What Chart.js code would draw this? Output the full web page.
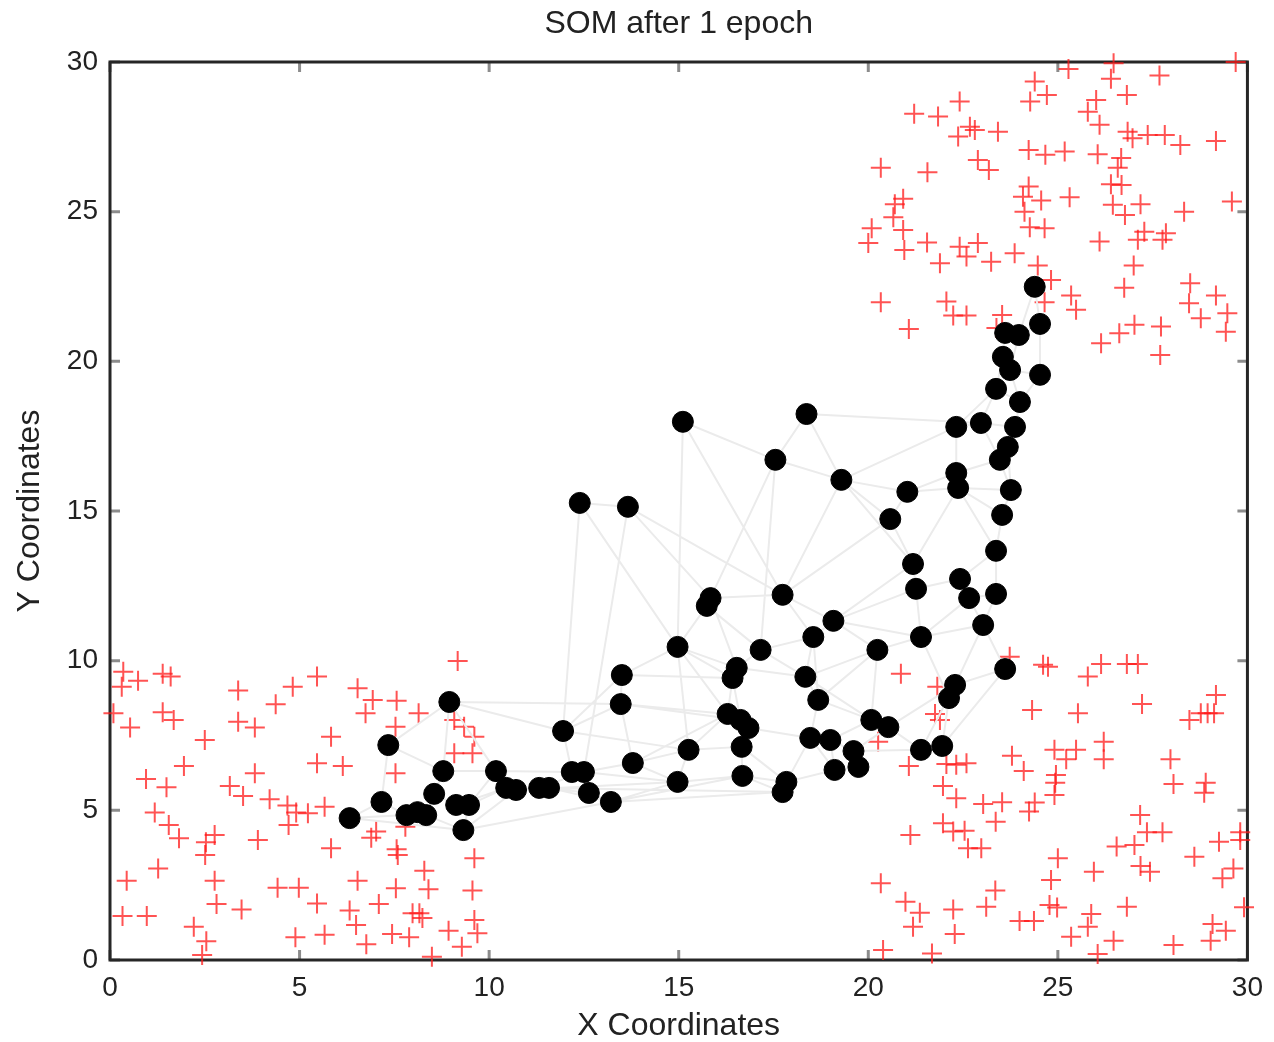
<!DOCTYPE html>
<html>
<head>
<meta charset="utf-8">
<title>SOM after 1 epoch</title>
<script src="https://cdn.jsdelivr.net/npm/chart.js@4.4.0/dist/chart.umd.min.js"></script>
<style>
  html, body { margin: 0; padding: 0; background: #fff; }
  #som { display: block; }
</style>
</head>
<body>
<canvas id="som" width="1274" height="1042"></canvas>
<script>
// Données d'entrée (croix rouges), par groupe
const clusterLowLeft = [
  [0.35,9.63],[0.31,9.13],[0.74,9.33],[1.39,9.56],[1.60,9.47],[3.38,9.00],[4.82,9.13],[0.09,8.24],[0.53,7.77],[1.39,8.28],
  [1.68,8.02],[3.38,7.96],[3.82,7.77],[4.37,8.54],[2.50,7.35],[1.95,6.48],[3.82,6.24],[0.95,6.05],[1.49,5.77],[3.16,5.81],
  [3.51,5.48],[4.21,5.37],[4.68,5.16],[4.91,4.93],[1.18,4.93],[1.55,4.51],[1.82,4.07],[2.76,4.18],[2.53,3.93],[2.51,3.51],
  [3.90,4.01],[4.71,4.51],[1.27,3.06],[0.44,2.65],[2.76,2.65],[4.42,2.41],[4.98,2.41],[2.81,1.87],[3.47,1.69],[0.33,1.47],
  [0.97,1.47],[2.21,1.11],[2.54,0.63],[2.43,0.17],[4.89,0.76],
  [9.17,9.99],[5.46,9.47],[6.53,9.08],[6.93,8.69],[7.56,8.66],[6.74,8.24],[8.14,8.24],[7.53,7.79],[5.83,7.46],[9.08,8.02],
  [9.34,7.79],[9.61,7.46],[9.56,6.91],[9.08,6.91],[5.46,6.57],[6.14,6.48],[7.53,6.24],[5.22,4.90],[5.66,5.12],[7.02,4.29],
  [6.89,4.08],[7.56,3.70],[7.59,3.51],[7.79,4.45],[5.83,3.73],[9.61,3.40],[8.29,2.98],[6.53,2.65],[7.54,2.40],[8.40,2.36],
  [9.56,2.32],[5.46,1.89],[7.09,1.87],[6.32,1.65],[6.49,1.17],[8.16,1.56],[7.98,1.56],[8.24,1.40],[9.61,1.34],[8.93,0.98],
  [9.69,0.89],[5.66,0.84],[6.76,0.53],[7.44,0.87],[7.89,0.76],[9.28,0.44],[8.49,0.11]
];

const clusterTopRight = [
  [24.39,29.35],[24.71,28.90],[24.27,28.68],[22.41,28.68],[21.21,28.27],[21.84,28.18],[22.68,27.84],[22.81,27.73],[22.37,27.51],[23.42,27.67],
  [24.23,27.06],[24.67,26.90],[22.89,26.73],[23.18,26.39],[20.33,26.47],[21.56,26.32],[24.23,25.84],[24.08,25.50],[24.56,25.37],[20.92,25.43],
  [20.70,25.25],[20.66,24.81],[20.09,24.45],[20.92,24.39],[24.12,25.00],[24.26,24.48],[24.65,24.45],[20.00,23.95],[20.95,23.72],[21.55,23.97],
  [22.41,23.83],[22.89,23.95],[22.59,23.50],[21.89,23.28],[23.24,23.33],[23.86,23.61],[24.47,23.20],[24.82,22.72],[20.33,21.97],[22.06,22.00],
  [22.24,21.53],[22.59,21.53],[21.07,21.08],[23.38,21.11],[23.53,21.55],[24.65,21.97],
  [25.28,29.77],[26.47,29.96],[26.40,29.44],[27.68,29.55],[29.69,30.00],[26.82,28.90],[26.01,28.73],[25.79,28.34],[26.10,27.90],[26.84,27.67],
  [26.97,27.45],[27.37,27.56],[27.82,27.56],[28.23,27.23],[29.17,27.36],[25.18,27.01],[26.05,26.92],[26.67,26.79],[26.58,26.47],[26.40,25.92],
  [26.68,25.89],[25.31,25.48],[26.45,25.23],[27.18,25.25],[26.77,24.89],[28.33,25.00],[29.59,25.34],[27.28,24.33],[27.11,24.06],[27.85,24.28],
  [27.76,24.06],[26.10,24.00],[27.00,23.20],[28.49,22.61],[26.75,22.46],[25.35,22.20],[25.48,21.72],[28.46,21.94],[29.17,22.20],[28.77,21.44],
  [29.47,21.61],[29.43,20.99],[27.02,21.22],[26.62,20.94],[27.72,21.16],[26.14,20.60],[27.70,20.21]
];

const clusterLowRight = [
  [23.73,10.13],[24.61,9.86],[24.74,9.80],[20.86,9.56],[21.82,9.13],[24.32,8.35],[21.76,8.22],[21.89,8.02],[24.91,7.02],[23.79,6.82],
  [24.10,6.31],[24.93,5.92],[24.91,5.51],[21.07,6.48],[22.06,6.55],[22.32,6.52],[22.59,6.57],[20.26,7.29],[21.97,5.81],[22.32,5.40],
  [23.03,5.21],[23.53,5.27],[24.39,5.26],[24.24,4.96],[23.36,4.62],[21.97,4.57],[22.24,4.29],[22.54,4.32],[22.63,3.73],[22.98,3.73],
  [21.11,4.18],[25.00,3.40],[20.33,2.56],[20.98,1.95],[21.36,1.58],[21.18,1.11],[22.24,1.69],[22.28,0.87],[23.35,2.32],[23.11,1.78],
  [23.99,1.30],[24.37,1.30],[24.82,2.67],[24.78,1.84],[20.39,0.33],[21.68,0.22],
  [26.14,9.89],[26.82,9.89],[27.11,9.89],[25.79,9.47],[29.17,8.85],[27.22,8.55],[25.53,8.24],[28.95,8.24],[28.77,8.24],[28.47,8.02],
  [29.12,8.24],[26.21,7.29],[26.21,6.71],[25.48,7.02],[25.22,6.71],[24.95,6.18],[27.97,6.71],[28.05,5.88],[28.90,5.92],[28.86,5.59],
  [27.17,4.84],[27.35,4.27],[27.76,4.27],[27.02,3.84],[26.55,3.79],[29.25,3.95],[29.81,4.27],[29.81,4.01],[28.60,3.45],[27.18,3.14],
  [27.43,2.95],[25.95,2.95],[29.63,3.06],[29.34,2.73],[24.98,1.75],[26.82,1.78],[25.88,1.54],[25.79,1.11],[25.35,0.78],[26.47,0.64],
  [28.05,0.50],[29.08,1.20],[29.43,0.98],[29.03,0.64],[29.91,1.76],[26.05,0.20]
];

// Neurones de la carte (points noirs)
const neurons = [
  [8.95,8.62],[7.34,7.18],[8.79,6.31],[7.16,5.28],[6.32,4.74],[8.55,5.55],[7.82,4.84],[8.11,4.94],[8.34,4.84],[9.13,5.18],
  [9.47,5.18],[9.32,4.34],[10.18,6.31],[10.45,5.75],[10.71,5.68],[11.32,5.75],[11.58,5.75],[11.95,7.65],[12.18,6.28],[12.50,6.28],
  [12.63,5.58],[13.21,5.28],[13.50,9.52],[13.47,8.55],[13.79,6.58],[15.11,17.98],[18.37,18.24],[17.55,16.71],[19.29,16.04],[12.39,15.27],
  [13.66,15.14],[15.84,12.09],[15.74,11.83],[17.74,12.20],[19.08,11.33],[18.55,10.79],[14.97,10.46],[17.16,10.36],[20.24,10.36],[21.39,10.79],
  [16.53,9.76],[16.42,9.42],[18.34,9.46],[18.68,8.69],[16.29,8.22],[16.63,8.02],[16.84,7.75],[20.08,8.02],[20.53,7.78],[15.26,7.02],
  [16.66,7.12],[18.47,7.42],[19.00,7.35],[19.61,6.98],[19.74,6.45],[19.11,6.35],[21.39,7.02],[21.95,7.15],[14.97,5.95],[16.68,6.15],
  [17.84,5.95],[17.74,5.61],[22.29,9.19],[22.13,8.75],[23.61,9.72],[23.03,11.19],[22.66,12.09],[22.42,12.73],[23.37,12.23],[21.26,12.40],
  [21.18,13.23],[23.37,13.67],[20.58,14.73],[23.53,14.87],[21.03,15.64],[22.37,15.77],[22.32,16.27],[23.76,15.70],[23.68,17.14],[23.47,16.71],
  [22.32,17.81],[22.97,17.94],[23.87,17.81],[23.37,19.08],[24.00,18.64],[23.55,20.15],[23.74,19.71],[24.53,19.55],[23.61,20.95],[23.97,20.88],
  [24.53,21.25],[24.39,22.49]
];

// Liaisons entre neurones voisins (indices dans neurons)
const edges = [
  [91,90],[91,89],[90,89],[89,88],[88,85],[90,87],[89,86],[85,86],[86,87],[85,83],[86,84],[87,84],[83,84],[83,81],[84,82],
  [81,82],[83,80],[80,81],[81,79],[82,78],[78,79],[79,77],[78,77],[80,76],[76,75],[79,76],[75,77],[75,73],[77,73],[76,74],
  [74,75],[73,71],[75,71],[74,72],[72,70],[75,70],[70,69],[71,68],[71,67],[67,66],[68,66],[66,65],[68,65],[67,69],[69,39],
  [65,64],[66,39],[65,62],[64,62],[62,63],[63,57],[63,39],[39,38],[62,56],[57,56],[56,48],[48,47],[47,38],[38,34],[39,34],
  [69,34],[70,28],[72,28],[74,28],[80,28],[26,81],[26,28],[26,27],[25,27],[27,28],[25,36],[25,33],[27,37],[27,32],[28,33],
  [29,30],[29,17],[29,36],[30,31],[30,33],[30,19],[31,32],[31,33],[32,36],[32,37],[33,34],[33,35],[34,35],[35,42],[35,37],
  [37,40],[37,42],[36,22],[36,40],[36,41],[40,41],[41,44],[40,42],[42,43],[43,47],[43,51],[42,38],[44,45],[45,46],[44,49],
  [46,50],[46,51],[50,59],[49,58],[49,50],[51,52],[52,53],[53,54],[54,55],[55,60],[52,55],[60,61],[59,60],[59,61],[51,60],
  [53,56],[48,53],[47,52],[38,43],[22,23],[23,17],[23,24],[22,17],[24,49],[24,58],[24,19],[17,18],[18,19],[19,20],[20,21],
  [21,58],[18,12],[12,13],[13,14],[14,15],[15,16],[16,20],[16,21],[15,19],[12,2],[2,0],[0,1],[0,17],[1,3],[3,4],
  [4,6],[6,7],[7,8],[8,5],[5,2],[5,9],[9,10],[10,11],[11,8],[10,12],[10,13],[11,14],[9,13],[3,6],[1,2],
  [0,12],[21,61],[58,59],[41,45],[23,44],[36,49],[57,64],[62,48],[65,39],[0,23],[33,72],[34,70],[11,21],[14,58],[4,11],
  [16,61],[24,44],[45,59],[50,60],[57,63],[22,41],[23,45],[17,49],[19,58],[21,59],[36,44],[31,40],[35,43],[42,47],[51,55]
];

const tickValues = [0, 5, 10, 15, 20, 25, 30];

// Petites graduations intérieures + cadre, façon gnuplot
const frameTicks = {
  id: 'frameTicks',
  beforeDatasetsDraw(chart) {
    const {ctx, chartArea: a, scales: {x, y}} = chart;
    ctx.save();
    ctx.strokeStyle = '#8c8c8c';
    ctx.lineWidth = 3;
    ctx.beginPath();
    tickValues.forEach(v => {
      const px = x.getPixelForValue(v);
      const py = y.getPixelForValue(v);
      ctx.moveTo(px, a.bottom); ctx.lineTo(px, a.bottom - 10);
      ctx.moveTo(px, a.top); ctx.lineTo(px, a.top + 10);
      ctx.moveTo(a.left, py); ctx.lineTo(a.left + 10, py);
      ctx.moveTo(a.right, py); ctx.lineTo(a.right - 10, py);
    });
    ctx.stroke();
    ctx.strokeStyle = '#262626';
    ctx.lineWidth = 3;
    ctx.strokeRect(a.left, a.top, a.width, a.height);
    ctx.restore();
  }
};

function toPoints(list) {
  return list.map(p => ({x: p[0], y: p[1]}));
}

function edgePoints() {
  const pts = [];
  edges.forEach(e => {
    const a = neurons[e[0]], b = neurons[e[1]];
    pts.push({x: a[0], y: a[1]}, {x: b[0], y: b[1]}, {x: null, y: null});
  });
  return pts;
}

const crossStyle = {
  pointStyle: 'cross',
  pointRadius: 10,
  pointBorderWidth: 2,
  borderColor: 'rgba(255,25,25,0.75)',
  backgroundColor: 'rgba(255,25,25,0.75)',
  showLine: false,
  clip: false,
  order: 2
};

Chart.defaults.font.family = '"Liberation Sans", Arial, sans-serif';
Chart.defaults.color = '#222';

new Chart(document.getElementById('som'), {
  type: 'scatter',
  data: {
    datasets: [
      {
        label: 'Neurones',
        data: toPoints(neurons),
        pointStyle: 'circle',
        pointRadius: 10.5,
        pointBorderWidth: 1,
        borderColor: '#000',
        backgroundColor: '#000',
        order: 0
      },
      {
        label: 'Liaisons',
        data: edgePoints(),
        showLine: true,
        spanGaps: false,
        pointRadius: 0,
        borderColor: '#ebebeb',
        borderWidth: 2,
        tension: 0,
        order: 1
      },
      Object.assign({label: 'Données 1', data: toPoints(clusterLowLeft)}, crossStyle),
      Object.assign({label: 'Données 2', data: toPoints(clusterTopRight)}, crossStyle),
      Object.assign({label: 'Données 3', data: toPoints(clusterLowRight)}, crossStyle)
    ]
  },
  options: {
    responsive: false,
    animation: false,
    layout: { padding: { left: 0, right: 23, top: 0, bottom: 0 } },
    plugins: {
      legend: { display: false },
      tooltip: { enabled: false },
      title: {
        display: true,
        text: 'SOM after 1 epoch',
        fullSize: false,
        color: '#222',
        font: { size: 32, weight: 'normal' },
        padding: { top: 5, bottom: 18.6 }
      }
    },
    scales: {
      x: {
        type: 'linear',
        min: 0,
        max: 30,
        grid: { display: false, drawTicks: false },
        border: { display: false },
        ticks: { stepSize: 5, padding: 11, color: '#222', font: { size: 28 } },
        title: {
          display: true,
          text: 'X Coordinates',
          color: '#222',
          font: { size: 32, lineHeight: 1 },
          padding: { top: 0, bottom: 0 }
        },
        afterFit(scale) { scale.height = 82; }
      },
      y: {
        type: 'linear',
        min: 0,
        max: 30,
        grid: { display: false, drawTicks: false },
        border: { display: false },
        ticks: { stepSize: 5, padding: 12, color: '#222', font: { size: 28 } },
        title: {
          display: true,
          text: 'Y Coordinates',
          color: '#222',
          font: { size: 32, lineHeight: 1 },
          padding: { top: 14, bottom: 0 }
        },
        afterFit(scale) { scale.width = 110; }
      }
    }
  },
  plugins: [frameTicks]
});
</script>
</body>
</html>
